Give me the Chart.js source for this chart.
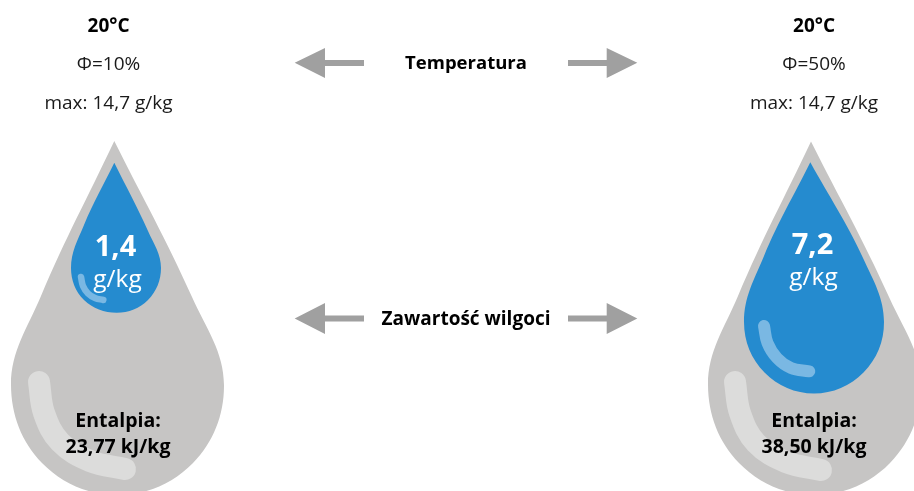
<!DOCTYPE html>
<html lang="pl">
<head>
    <meta charset="UTF-8">
    <title>Entalpia</title>
    <script src="https://cdn.jsdelivr.net/npm/chart.js"></script>
    <style>
        html, body { margin: 0; padding: 0; background: #fff; overflow: hidden; }
        canvas { display: block; }
    </style>
</head>
<body>
    <canvas id="chart" width="914" height="491"></canvas>

<script>
    // values shown on the picture
    var temperatures = ['20°C', '20°C']
    var humidity = ['Φ=10%', 'Φ=50%']
    var maxMoisture = ['max: 14,7 g/kg', 'max: 14,7 g/kg']
    var moisture = ['1,4', '7,2']
    var moistureUnit = 'g/kg'
    var enthalpyTitle = 'Entalpia:'
    var enthalpy = ['23,77 kJ/kg', '38,50 kJ/kg']
    var arrowLabels = ['Temperatura', 'Zawartość wilgoci']

    // outlines, in image units
    var grayDropLeft = [[114.3,141],[41,296],[11,385],[42,463],[117.5,495],[193,463],[224,385],[192,297],[114.3,141]]
    var grayDropRight = [[811,141.5],[738,296],[708,385],[739,463],[814.3,495],[890,463],[921,385],[889,297],[811,141.5]]
    var blueDropLeft = [[114.3,162.7],[84,225],[71,268],[84,300],[116.7,312.8],[148,300],[161,268],[148,231],[114.3,162.7]]
    var blueDropRight = [[810.3,162.3],[764,256],[744,322],[764.5,372.5],[814,393.5],[863.5,372.5],[884,322],[863,258],[810.3,162.3]]
    var grayShineLeft = [[39,382],[44,413],[60,442],[90,461],[125,469]]
    var grayShineRight = [[735,382],[740,413],[756,443],[786,462],[821,470]]
    var blueShineLeft = [[81,277],[83,286],[88,293.5],[95,298],[103.3,300]]
    var blueShineRight = [[764,326],[767.5,343],[777,358],[791,368],[809.3,371.3]]
    var arrowTopLeft = [[294.7,62.7],[325,48],[325,60],[364,60],[364,66],[325,66],[325,78],[294.7,62.7]]
    var arrowTopRight = [[637.3,62.7],[606.7,48],[606.7,60],[568,60],[568,66],[606.7,66],[606.7,78],[637.3,62.7]]
    var arrowBottomLeft = [[294.7,318.5],[325,303],[325,315.5],[364,315.5],[364,321.5],[325,321.5],[325,334],[294.7,318.5]]
    var arrowBottomRight = [[637.3,318.5],[606.7,303],[606.7,315.5],[568,315.5],[568,321.5],[606.7,321.5],[606.7,334],[637.3,318.5]]

    var GRAY = '#c6c5c4'
    var BLUE = '#258bcf'
    var ARROW = '#a0a0a0'

    function pts(list){
        return list.map(p => ({x: p[0], y: p[1]}))
    }
    function shape(list, color, tension){
        return {data: pts(list), showLine: true, fill: 'shape', backgroundColor: color,
                borderWidth: 0, pointRadius: 0, tension: tension}
    }
    function shine(list, color, width){
        return {data: pts(list), showLine: true, fill: false, borderColor: color, borderWidth: width,
                borderCapStyle: 'round', borderJoinStyle: 'round', pointRadius: 0, tension: 0.38}
    }

    // back to front
    var layers = [
        shape(grayDropLeft, GRAY, 0.38),
        shape(grayDropRight, GRAY, 0.38),
        shine(grayShineLeft, '#dcdcdb', 22),
        shine(grayShineRight, '#dcdcdb', 22),
        shape(blueDropLeft, BLUE, 0.38),
        shape(blueDropRight, BLUE, 0.38),
        shine(blueShineLeft, '#7ab8e3', 6.5),
        shine(blueShineRight, '#7ab8e3', 12),
        shape(arrowTopLeft, ARROW, 0),
        shape(arrowTopRight, ARROW, 0),
        shape(arrowBottomLeft, ARROW, 0),
        shape(arrowBottomRight, ARROW, 0)
    ]
    layers.forEach((d, i) => { d.order = layers.length - i })

    var FONT = '"Open Sans", "Noto Sans", sans-serif'

    var textPlugin = {
        id: 'texts',
        afterDatasetsDraw(chart){
            var ctx = chart.ctx
            var sx = chart.scales.x
            var sy = chart.scales.y
            function put(text, x, y, size, weight, color){
                ctx.font = weight + ' ' + size + 'px ' + FONT
                ctx.fillStyle = color
                ctx.fillText(text, sx.getPixelForValue(x), sy.getPixelForValue(y))
            }
            ctx.save()
            ctx.textAlign = 'center'
            ctx.textBaseline = 'middle'
            var headX = [108.5, 814]
            var dropX = [115.5, 812.5]
            var unitX = [117.5, 813.5]
            var moistY = [248, 246]
            var unitY = [280, 278]
            var enthX = [118, 814]
            for (var i = 0; i < 2; i++){
                put(temperatures[i], headX[i], 27, 19, 'bold', '#000')
                put(humidity[i], headX[i], 65, 19, 'normal', '#1a1a1a')
                put(maxMoisture[i], headX[i], 104, 19, 'normal', '#1a1a1a')
                put(moisture[i], dropX[i], moistY[i], 29, 'bold', '#fff')
                put(moistureUnit, unitX[i], unitY[i], 24.5, 'normal', '#fff')
                put(enthalpyTitle, enthX[i], 421, 19.5, 'bold', '#000')
                put(enthalpy[i], enthX[i], 447, 19.5, 'bold', '#000')
            }
            put(arrowLabels[0], 466, 64, 18.5, 'bold', '#000')
            put(arrowLabels[1], 466, 320, 19, 'bold', '#000')
            ctx.restore()
        }
    }

    var chart = new Chart(document.getElementById('chart'), {
        type: 'scatter',
        data: {datasets: layers},
        options: {
            responsive: false,
            animation: false,
            events: [],
            layout: {padding: 0},
            elements: {line: {capBezierPoints: false}},
            plugins: {legend: {display: false}, tooltip: {enabled: false}},
            scales: {
                x: {type: 'linear', min: 0, max: 914, display: false},
                y: {type: 'linear', min: 0, max: 491, reverse: true, display: false}
            }
        },
        plugins: [textPlugin]
    })
</script>
</body>
</html>
